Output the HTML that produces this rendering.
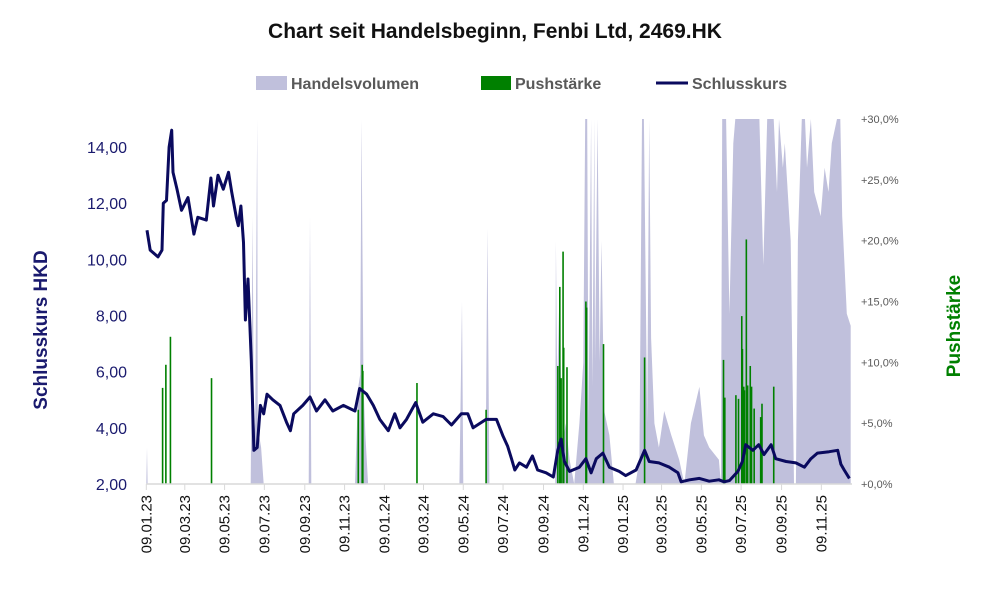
<!DOCTYPE html>
<html><head><meta charset="utf-8"><style>
body{margin:0;background:#fff;font-family:"Liberation Sans",sans-serif}
svg{display:block}
</style></head><body>
<svg id="c" width="991" height="593">
<text x="495" y="38" text-anchor="middle" font-size="21" font-weight="bold" fill="#111">Chart seit Handelsbeginn, Fenbi Ltd, 2469.HK</text>
<g font-size="16" font-weight="bold" fill="#595959">
<rect x="256" y="76" width="31" height="14" fill="#c0c0dc"/>
<text x="291" y="89">Handelsvolumen</text>
<rect x="481" y="76" width="30" height="14" fill="#008000"/>
<text x="515" y="89">Pushstärke</text>
<line x1="656" y1="83" x2="688" y2="83" stroke="#0a0a5e" stroke-width="3"/>
<text x="692" y="89">Schlusskurs</text>
</g>
<text transform="translate(47,330) rotate(-90)" text-anchor="middle" font-size="19" font-weight="bold" fill="#1a1a6e">Schlusskurs HKD</text>
<text transform="translate(960,326) rotate(-90)" text-anchor="middle" font-size="19" font-weight="bold" fill="#008000">Pushstärke</text>
<g id="plot"></g>
</svg>
<script>
const priceDays=[1,6,18,24,26,31,35,39,41,47,54,64,73,79,92,99,103,110,118,126,131,138,141,145,149,152,156,161,165,170,175,180,185,194,205,215,221,226,240,251,261,274,286,302,320,327,338,348,358,371,381,389,399,413,424,440,455,468,483,493,501,521,537,547,554,560,565,572,583,592,600,613,624,631,636,641,649,664,674,682,690,700,710,725,735,751,764,771,786,802,815,820,833,848,863,878,886,894,907,914,919,930,939,947,958,965,981,996,1009,1019,1029,1047,1060,1065,1070,1078];
const priceVals=[11.04,10.33,10.09,10.33,12.0,12.1,14.0,14.6,13.1,12.5,11.75,12.2,10.9,11.5,11.4,12.9,11.9,13.0,12.5,13.1,12.4,11.5,11.2,11.9,10.6,7.84,9.3,6.4,3.2,3.3,4.8,4.5,5.2,5.0,4.8,4.2,3.9,4.5,4.8,5.1,4.6,5.0,4.6,4.8,4.6,5.4,5.2,4.8,4.3,3.9,4.5,4.0,4.3,4.9,4.2,4.5,4.4,4.1,4.5,4.5,4.0,4.3,4.3,3.7,3.35,2.9,2.5,2.75,2.6,3.0,2.5,2.4,2.25,3.2,3.6,2.8,2.45,2.6,2.9,2.4,2.9,3.1,2.6,2.45,2.3,2.5,3.2,2.8,2.75,2.6,2.4,2.08,2.15,2.2,2.1,2.15,2.08,2.12,2.45,2.8,3.4,3.2,3.4,3.05,3.4,2.9,2.8,2.75,2.6,2.9,3.1,3.15,3.2,2.7,2.5,2.2];
const pushDays=[25,30,37,100,325,331,332,415,521,631,634,636,639,640,645,674,675,701,764,885,887,904,908,913,914,916,917,920,922,926,928,932,942,944,962];
const pushVals=[7.9,9.8,12.1,8.7,6.1,9.8,9.3,8.3,6.1,9.7,16.2,8.7,19.1,11.2,9.6,15.0,14.5,11.5,10.4,10.2,7.1,7.3,7.0,13.8,11.1,8.0,7.7,20.1,8.1,9.7,8.0,6.2,5.5,6.6,8.0];
const volDays=[0,1,2,160,163,165,167,170,171,173,176,180,184,249,251,253,320,325,328,330,333,336,340,480,484,486,520,523,526,620,627,628,630,633,638,643,649,656,664,670,673,676,678,682,684,687,688,692,695,698,702,710,717,750,756,760,763,768,771,774,779,786,794,805,817,825,835,848,855,863,878,881,883,889,894,900,903,940,946,952,962,967,970,976,979,988,993,996,999,1005,1010,1013,1019,1024,1034,1040,1046,1051,1059,1064,1067,1074,1080];
const volVals=[0,3,0,0,22,4,5,30,3,4,3,0,0,0,22,0,0,8,9,30,8,4,0,0,15,0,0,21,0,0,0,20,8,15,3,5,2,0,5,10,30,30,5,30,8,30,10,30,10,20,6,4,0,0,2,30,30,5,30,12,5,3,6,4,2,0,5,8,4,3,2,0,30,30,14,28,30,30,18,30,30,24,30,26,28,20,0,0,20,30,30,26,30,24,22,26,24,28,30,30,22,14,13];
const leftTicks=[2,4,6,8,10,12,14];
const rightTicks=[0,5,10,15,20,25,30];
const xTickDays=[0,59,120,181,243,304,365,425,486,547,609,670,731,790,851,912,974,1035];
const xTickLabels=["09.01.23","09.03.23","09.05.23","09.07.23","09.09.23","09.11.23","09.01.24","09.03.24","09.05.24","09.07.24","09.09.24","09.11.24","09.01.25","09.03.25","09.05.25","09.07.25","09.09.25","09.11.25"];

const NS="http://www.w3.org/2000/svg";
const X0=146.3,X1=852,Y0=484,YT=119;
const xs=d=>X0+(X1-X0)*d/1082;
const yL=v=>Y0-(v-2)*(Y0-YT)/13;
const yR=p=>Y0-Math.min(p,30)*(Y0-YT)/30;
const plot=document.getElementById('plot');
function mk(t,a){const e=document.createElementNS(NS,t);for(const k in a)e.setAttribute(k,a[k]);plot.appendChild(e);return e;}

let vp=`M${xs(volDays[0])},${Y0}`;
volDays.forEach((d,i)=>{vp+=` L${xs(d).toFixed(1)},${yR(volVals[i]).toFixed(1)}`;});
vp+=` L${xs(volDays[volDays.length-1])},${Y0} Z`;
const va=mk('path',{d:vp,fill:'#c0c0dc'});



pushDays.forEach((d,i)=>{
  const b=mk('rect',{x:xs(d)-0.8,y:yR(pushVals[i]),width:1.6,height:Y0-yR(pushVals[i]),fill:'#008000'});
  
  
});

mk('line',{x1:X0,y1:Y0,x2:X1,y2:Y0,stroke:'#d9d9d9','stroke-width':1.5});
xTickDays.forEach((d,i)=>{
  const x=xs(d);
  mk('line',{x1:x,y1:Y0,x2:x,y2:Y0+6,stroke:'#d9d9d9','stroke-width':1});
  const t=mk('text',{transform:`translate(${x+5},${Y0+11}) rotate(-90)`,'text-anchor':'end','font-size':15,fill:'#111'});
  t.textContent=xTickLabels[i];
  
  
});
leftTicks.forEach(v=>{
  const t=mk('text',{x:127,y:yL(v)+6,'text-anchor':'end','font-size':16,fill:'#1a1a6e'});
  t.textContent=v.toFixed(2).replace('.',',');
  
  
});
rightTicks.forEach(v=>{
  const t=mk('text',{x:861,y:yR(v)+4,'font-size':11,fill:'#595959'});
  t.textContent='+'+v.toFixed(1).replace('.',',')+'%';
  
  
});

const pts=priceDays.map((d,i)=>xs(d).toFixed(1)+','+yL(priceVals[i]).toFixed(1)).join(' ');
const pl=mk('polyline',{points:pts,fill:'none',stroke:'#0a0a5e','stroke-width':3,'stroke-linejoin':'round'});


</script>
</body></html>
